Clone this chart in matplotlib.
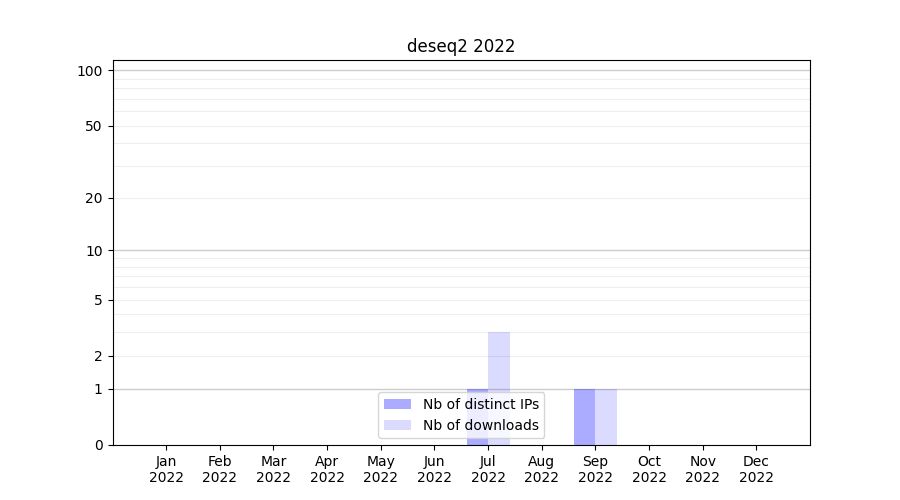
import numpy as np
import matplotlib
matplotlib.use("Agg")
import matplotlib.pyplot as plt

# Datos
months = ["Jan", "Feb", "Mar", "Apr", "May", "Jun", "Jul", "Aug", "Sep", "Oct", "Nov", "Dec"]
year = "2022"
distinct_ips = [0, 0, 0, 0, 0, 0, 1, 0, 1, 0, 0, 0]
downloads = [0, 0, 0, 0, 0, 0, 3, 0, 1, 0, 0, 0]
ytick_values = [0, 1, 2, 5, 10, 20, 50, 100]

fig, ax = plt.subplots(figsize=(9, 5), dpi=100)

# escala log(1+x)
ax.set_yscale("function", functions=(np.log1p, np.expm1))

x = np.arange(len(months))
ax.bar(x, distinct_ips, width=-0.4, align="edge", color="blue", alpha=0.33,
       label="Nb of distinct IPs", zorder=2)
ax.bar(x, downloads, width=0.4, align="edge", color="blue", alpha=0.14,
       label="Nb of downloads", zorder=2)

# lineas de la grilla
for v in [1, 10, 100]:
    ax.axhline(v, color="#cccccc", linewidth=1, zorder=1)
for d in [1, 10]:
    for k in range(2, 10):
        ax.axhline(d * k, color="#eeeeee", linewidth=0.8, zorder=1)

ax.set_ylim(0, 113.6)
ax.set_xlim(-1, 12)
ax.set_yticks(ytick_values)
ax.set_yticklabels([str(v) for v in ytick_values])
ax.minorticks_off()
ax.set_xticks(x)
ax.set_xticklabels([m + "\n" + year for m in months])

ax.set_title("deseq2 " + year)
ax.legend(loc="lower center")

fig.savefig("out.png")
